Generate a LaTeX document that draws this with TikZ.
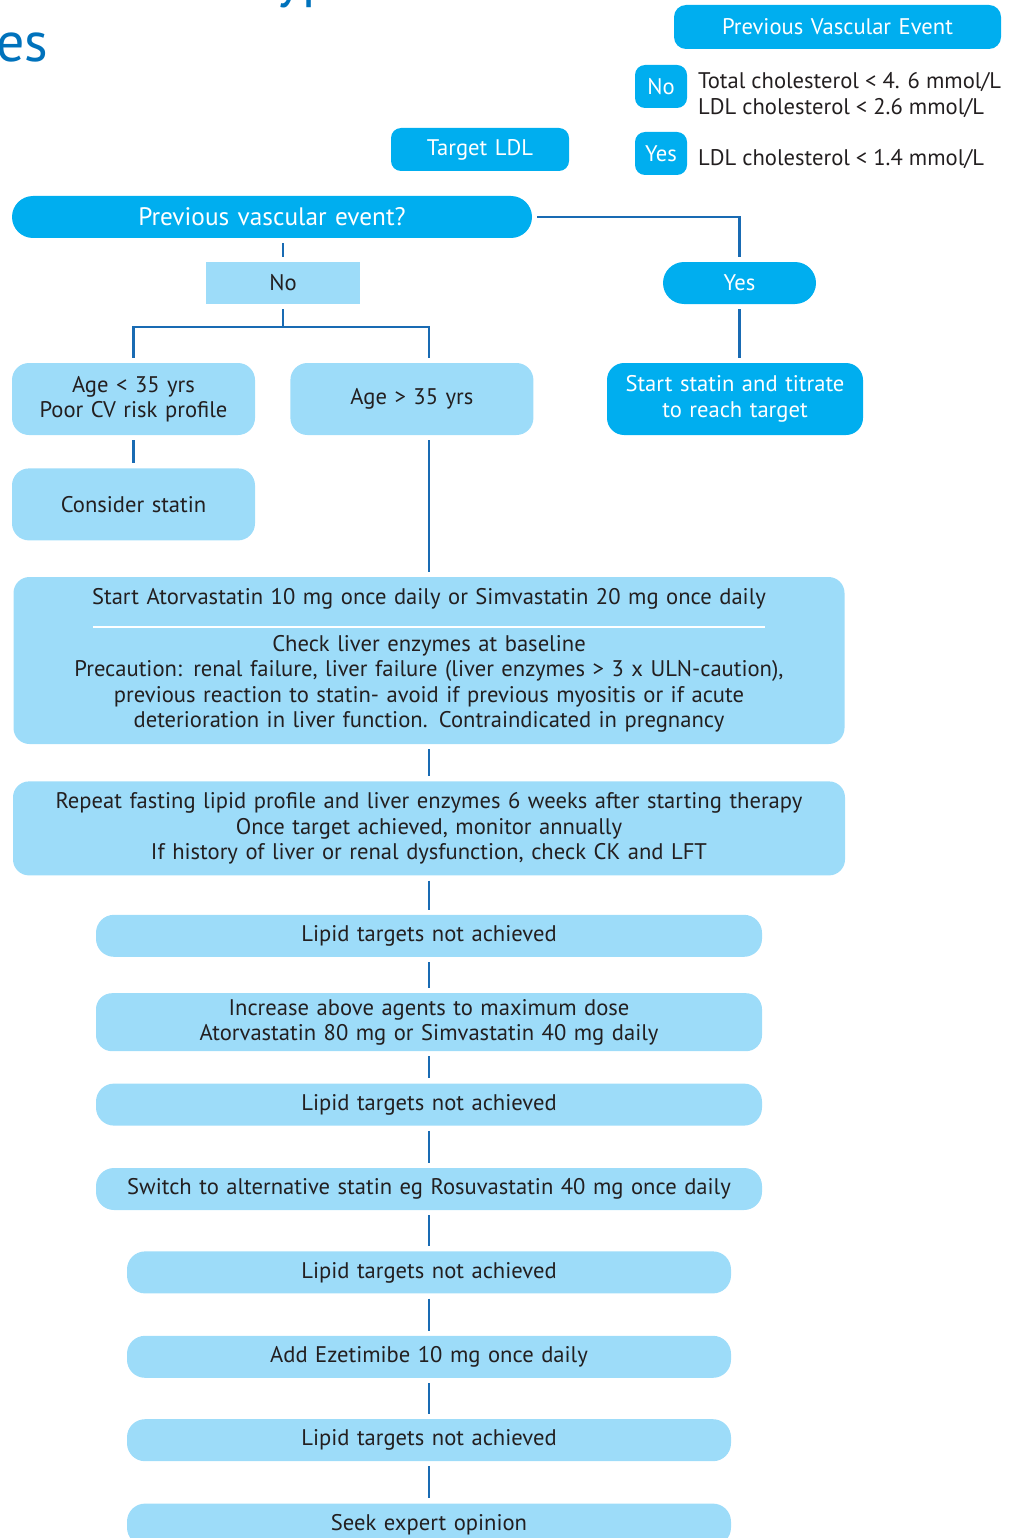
\documentclass[tikz,border=0pt]{standalone}
\usepackage{fontspec}
\setmainfont{PT Sans}
\usetikzlibrary{positioning,calc}
\definecolor{cyn}{RGB}{0,174,239}
\definecolor{pale}{RGB}{157,220,249}
\definecolor{lnc}{RGB}{25,107,179}
\definecolor{ttl}{RGB}{0,114,188}
\definecolor{txc}{RGB}{35,31,32}
\newcommand{\fs}{\fontsize{22.6}{25.5}\selectfont}
\tikzset{
  cn/.style={rectangle,rounded corners=18pt,fill=cyn,text=white,
    text width=#1,align=center,font=\fs,
    minimum height=42pt,inner sep=0pt},
  cn/.default=150pt,
  pn/.style={rectangle,rounded corners=18pt,fill=pale,text=txc,
    text width=#1,align=center,font=\fs,
    minimum height=42pt,inner sep=0pt},
  pn/.default=604pt,
  leg/.style={text=txc,align=left,anchor=west,inner sep=0pt,font=\fs},
  conn/.style={line width=2.4pt,draw=lnc,shorten <=5pt,shorten >=5pt},
}

\begin{document}
\begin{tikzpicture}[x=1pt,y=1pt]
    \useasboundingbox (0,0) rectangle (1011,-1538);
    % title, cut by the page edge
    \node[anchor=base west,inner sep=0pt,text=ttl,font=\fontsize{56}{56}\selectfont] (ttlA) at (276,3) {yp};
    \node[anchor=base west,inner sep=0pt,text=ttl,font=\fontsize{56}{56}\selectfont] (ttlB) at (-4,-62) {es};

    % Legend - top right
    \node[cn=327pt,minimum height=44pt,rounded corners=12pt] (legEv) at (837.5,-27) {Previous Vascular Event};
    \node[cn=52pt,minimum height=43pt,rounded corners=10pt] (legNo) at (661,-86.5) {No};
    \node[cn=52pt,minimum height=43pt,rounded corners=10pt] (legYes) at (661,-153.5) {Yes};
    \node[leg] (tgtNo) at (698,-95) {Total cholesterol < 4. 6 mmol/L\\LDL cholesterol < 2.6 mmol/L};
    \node[leg] (tgtYes) at (698,-159) {LDL cholesterol < 1.4 mmol/L};
    \node[cn=178pt,minimum height=43pt,rounded corners=10pt] (target) at (480,-149.5) {Target LDL};

    % Decision and branches
    \node[cn=520pt,rounded corners=21pt,font=\fontsize{25.3}{28}\selectfont] (pve) at (272,-217) {Previous vascular event?};
    \node[pn=154pt,sharp corners] (no) at (283,-283) {No};
    \node[cn=153pt,rounded corners=21pt] (yes) at (739.5,-283) {Yes};
    \node[pn=243pt,minimum height=72pt,rounded corners=17pt] (young) at (133.5,-399)
      {Age < 35 yrs\\Poor CV risk profile};
    \node[pn=243pt,minimum height=72pt,rounded corners=17pt,right=35pt of young] (old) {Age > 35 yrs};
    \node[pn=243pt,minimum height=72pt,rounded corners=17pt,below=33pt of young] (statin) {Consider statin};
    \node[cn=256pt,minimum height=72pt,rounded corners=17pt] (titrate) at (735,-399)
      {Start statin and titrate\\to reach target};

    % Treatment chain - centred
    \node[pn=831pt,minimum height=167pt,rounded corners=16pt] (start) at (429,-660.5)
      {Start Atorvastatin 10 mg once daily or Simvastatin 20 mg once daily\\[21pt]
       Check liver enzymes at baseline\\
       Precaution: renal failure, liver failure (liver enzymes > 3 x ULN-caution),\\
       previous reaction to statin- avoid if previous myositis or if acute\\
       deterioration in liver function. Contraindicated in pregnancy};
    \node[pn=832pt,minimum height=94pt,rounded corners=16pt,below=37pt of start] (repeat)
      {Repeat fasting lipid profile and liver enzymes 6 weeks after starting therapy\\
       Once target achieved, monitor annually\\
       If history of liver or renal dysfunction, check CK and LFT};
    \node[pn=666pt,below=39pt of repeat] (lt1) {Lipid targets not achieved};
    \node[pn=666pt,minimum height=58pt,rounded corners=16pt,below=36pt of lt1] (incr)
      {Increase above agents to maximum dose\\Atorvastatin 80 mg or Simvastatin 40 mg daily};
    \node[pn=666pt,below=32pt of incr] (lt2) {Lipid targets not achieved};
    \node[pn=666pt,below=42pt of lt2] (swap) {Switch to alternative statin eg Rosuvastatin 40 mg once daily};
    \node[pn,below=41pt of swap] (lt3) {Lipid targets not achieved};
    \node[pn,below=42pt of lt3] (eze) {Add Ezetimibe 10 mg once daily};
    \node[pn,below=41pt of eze] (lt4) {Lipid targets not achieved};
    \node[pn,below=42pt of lt4] (seek) {Seek expert opinion};

    \draw[white,line width=2.5pt] ([xshift=-336pt,yshift=-50pt]start.north) -- ([xshift=336pt,yshift=-50pt]start.north);

    % Connectors
    \coordinate[below=23pt of no.south] (split);
    \draw[conn] (pve.east) -| (yes.north);
    \draw[conn] (pve.south -| no.north) -- (no.north);
    \draw[conn,shorten >=0pt] (no.south) -- (split);
    \draw[conn,shorten <=0pt] (split) -| (young.north);
    \draw[conn,shorten <=0pt] (split) -| (old.north -| start.north);
    \draw[conn] (young) -- (statin);
    \draw[conn] (old.south -| start.north) -- (start.north);
    \draw[conn] (yes.south) -- (yes.south |- titrate.north);
    \foreach \a/\b in {start/repeat,repeat/lt1,lt1/incr,incr/lt2,lt2/swap,swap/lt3,lt3/eze,eze/lt4,lt4/seek}
      \draw[conn] (\a) -- (\b);
  \end{tikzpicture}
\end{document}
